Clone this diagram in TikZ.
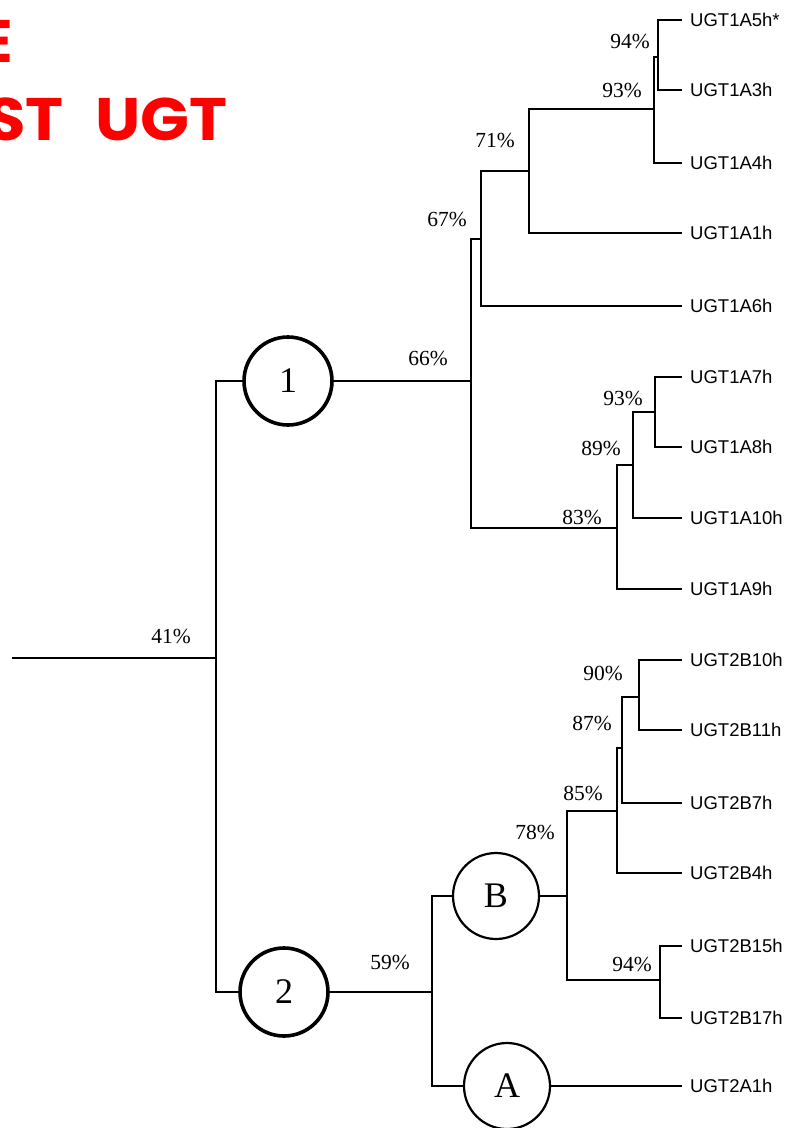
\documentclass[tikz,border=0pt]{standalone}
\usepackage{fontspec}
\setmainfont{Liberation Serif}
\newfontfamily\leaffont{Liberation Sans}
\newfontfamily\titlefont{Poppins}
\begin{document}
\begin{tikzpicture}[x=1pt,y=-1pt,
  branch/.style={line width=1.8pt,line cap=rect},
  leaf/.style={anchor=west,inner xsep=9pt,inner ysep=0pt,font=\leaffont\fontsize{18.5}{20}\selectfont},
  pct/.style={font=\fontsize{21.5}{23}\selectfont,inner sep=0pt},
  bigcirc/.style={circle,draw,line width=3.6pt,minimum size=88pt,inner sep=0pt,font=\fontsize{36}{40}\selectfont},
  subcirc/.style={circle,draw,line width=2.2pt,minimum size=86pt,inner sep=0pt,font=\fontsize{36}{40}\selectfont},
  ttl/.style={text=red,font=\titlefont\bfseries\fontsize{60}{66}\selectfont,inner sep=0pt,xscale=1.07}]
\useasboundingbox (0,0) rectangle (790,1128);
\clip (0,0) rectangle (790,1128);
% title fragments
\node[ttl,anchor=base east] (t1) at (13,62) {E};
\node[ttl,anchor=base east] (t2) at (228,140) {\spaceskip=30pt ST UGT};
% leaves
\node[leaf] (L5) at (681,20) {UGT1A5h*};
\node[leaf] (L3) at (681,90) {UGT1A3h};
\node[leaf] (L4) at (681,163) {UGT1A4h};
\node[leaf] (L1) at (681,233) {UGT1A1h};
\node[leaf] (L6) at (681,306) {UGT1A6h};
\node[leaf] (L7) at (681,377) {UGT1A7h};
\node[leaf] (L8) at (681,447) {UGT1A8h};
\node[leaf] (L10) at (681,518) {UGT1A10h};
\node[leaf] (L9) at (681,589) {UGT1A9h};
\node[leaf] (B10) at (681,660) {UGT2B10h};
\node[leaf] (B11) at (681,730) {UGT2B11h};
\node[leaf] (B7) at (681,803) {UGT2B7h};
\node[leaf] (B4) at (681,873) {UGT2B4h};
\node[leaf] (B15) at (681,946) {UGT2B15h};
\node[leaf] (B17) at (681,1018) {UGT2B17h};
\node[leaf] (A1) at (681,1086) {UGT2A1h};
% circles
\node[bigcirc] (c1) at (288,381) {1};
\node[bigcirc] (c2) at (284,992) {2};
\node[subcirc] (cB) at (496,896) {B};
\node[subcirc] (cA) at (507,1086) {A};
% internal nodes
\coordinate (r0) at (13,658);
\coordinate (n41) at (216,658);
\coordinate (n66) at (471,381);
\coordinate (n67) at (481,239);
\coordinate (n71) at (529,171);
\coordinate (n93a) at (654,109);
\coordinate (n94a) at (658,57);
\coordinate (n83) at (617,528);
\coordinate (n89) at (633,465);
\coordinate (n93b) at (655,412);
\coordinate (n59) at (432,992);
\coordinate (n78) at (567,896);
\coordinate (n85) at (617,811);
\coordinate (n87) at (622,748);
\coordinate (n90) at (639,697);
\coordinate (n94b) at (660,980);
% branches
\draw[branch] (r0) -- (n41);
\draw[branch] (n41) |- (c1.west);
\draw[branch] (n41) |- (c2.west);
\draw[branch] (c1.east) -- (n66);
\draw[branch] (n66) |- (n67);
\draw[branch] (n66) |- (n83);
\draw[branch] (n67) |- (n71);
\draw[branch] (n67) |- (L6.west);
\draw[branch] (n71) |- (n93a);
\draw[branch] (n71) |- (L1.west);
\draw[branch] (n93a) |- (n94a);
\draw[branch] (n93a) |- (L4.west);
\draw[branch] (n94a) |- (L5.west);
\draw[branch] (n94a) |- (L3.west);
\draw[branch] (n83) |- (n89);
\draw[branch] (n83) |- (L9.west);
\draw[branch] (n89) |- (n93b);
\draw[branch] (n89) |- (L10.west);
\draw[branch] (n93b) |- (L7.west);
\draw[branch] (n93b) |- (L8.west);
\draw[branch] (c2.east) -- (n59);
\draw[branch] (n59) |- (cB.west);
\draw[branch] (n59) |- (cA.west);
\draw[branch] (cB.east) -- (n78);
\draw[branch] (n78) |- (n85);
\draw[branch] (n78) |- (n94b);
\draw[branch] (n85) |- (n87);
\draw[branch] (n85) |- (B4.west);
\draw[branch] (n87) |- (n90);
\draw[branch] (n87) |- (B7.west);
\draw[branch] (n90) |- (B10.west);
\draw[branch] (n90) |- (B11.west);
\draw[branch] (n94b) |- (B15.west);
\draw[branch] (n94b) |- (B17.west);
\draw[branch] (cA.east) -- (A1.west);
% percentages
\node[pct] (p41) at (171,636) {41\%};
\node[pct] (p66) at (428,358) {66\%};
\node[pct] (p67) at (447,219) {67\%};
\node[pct] (p71) at (495,140) {71\%};
\node[pct] (p94a) at (630,41) {94\%};
\node[pct] (p93a) at (622,90) {93\%};
\node[pct] (p93b) at (623,398) {93\%};
\node[pct] (p89) at (601,448) {89\%};
\node[pct] (p83) at (582,517) {83\%};
\node[pct] (p90) at (603,673) {90\%};
\node[pct] (p87) at (592,723) {87\%};
\node[pct] (p85) at (583,793) {85\%};
\node[pct] (p78) at (535,832) {78\%};
\node[pct] (p59) at (390,962) {59\%};
\node[pct] (p94b) at (632,964) {94\%};
\end{tikzpicture}
\end{document}
